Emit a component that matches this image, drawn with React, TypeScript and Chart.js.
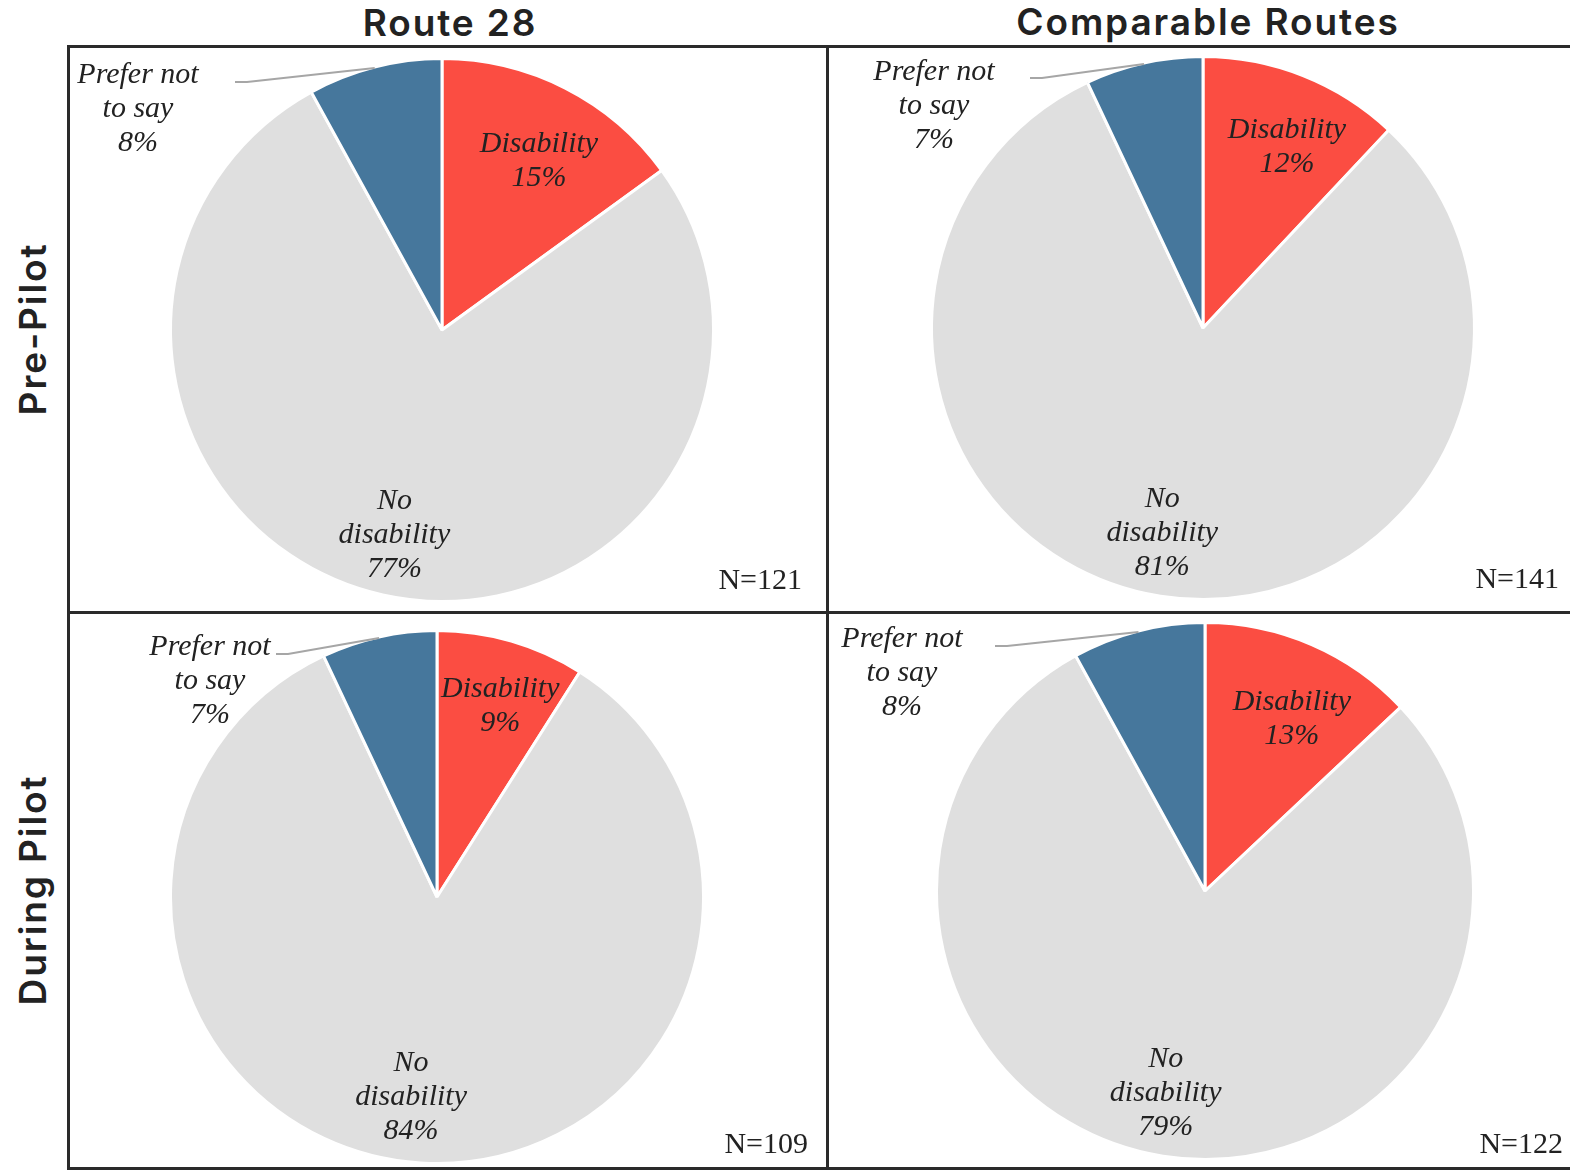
import React, { useEffect, useRef } from "react";
import { Chart, registerables } from "chart.js";

Chart.register(...registerables);

// ---------- data ----------
const categories = ["Disability", "No disability", "Prefer not to say"];
const categoryLabelLines = [["Disability"], ["No", "disability"], ["Prefer not", "to say"]];
const columnTitles = ["Route 28", "Comparable Routes"];
const rowTitles = ["Pre-Pilot", "During Pilot"];
const route28PrePilot = [15, 77, 8];
const comparablePrePilot = [12, 81, 7];
const route28DuringPilot = [9, 84, 7];
const comparableDuringPilot = [13, 79, 8];
const sampleSizes = [121, 141, 109, 122];

// ---------- styles ----------
const sliceColors = ["#FB4D42", "#DFDFDF", "#46779C"];
const TEXT = "#222222";
const FRAME = "#2a2a2a";
const LABEL_FONT = "italic 30px 'Liberation Serif', serif";
const N_FONT = "30px 'Liberation Serif', serif";
const HEAD_FONT = "Inter, 'Noto Sans', sans-serif";

// ---------- layout (page coordinates) ----------
type Panel = {
  data: number[];
  n: number;
  left: number;
  top: number;
  width: number;
  height: number;
  cx: number;
  cy: number;
  r: number;
  nudge: number[][];
  outLabel: number[];
  lineStart: number[];
  nPos: number[];
};

const panels: Panel[] = [
  {
    data: route28PrePilot, n: sampleSizes[0],
    left: 70, top: 48, width: 757, height: 564,
    cx: 442, cy: 330, r: 270,
    nudge: [[7, 8], [-2, 1]],
    outLabel: [-304, -221], lineStart: [-207, -248], nPos: [802, 589],
  },
  {
    data: comparablePrePilot, n: sampleSizes[1],
    left: 829, top: 48, width: 741, height: 564,
    cx: 1203, cy: 328, r: 270,
    nudge: [[11, 3], [-8, -1]],
    outLabel: [-269, -222], lineStart: [-173, -250], nPos: [1559, 588],
  },
  {
    data: route28DuringPilot, n: sampleSizes[2],
    left: 70, top: 614, width: 757, height: 553,
    cx: 437, cy: 897, r: 265,
    nudge: [[9, -4], [-13, -5]],
    outLabel: [-227, -216], lineStart: [-161, -243], nPos: [808, 1153],
  },
  {
    data: comparableDuringPilot, n: sampleSizes[3],
    left: 829, top: 614, width: 741, height: 553,
    cx: 1205, cy: 891, r: 267,
    nudge: [[9, 8], [-7, -2]],
    outLabel: [-303, -218], lineStart: [-210, -245], nPos: [1563, 1153],
  },
];

const BW = 3;
const LINE_H = 34;

function drawLines(ctx: CanvasRenderingContext2D, lines: string[], x: number, y: number) {
  const y0 = y - ((lines.length - 1) * LINE_H) / 2;
  lines.forEach((t, i) => ctx.fillText(t, x, y0 + i * LINE_H));
}

function PiePanel({ p }: { p: Panel }) {
  const ref = useRef<HTMLCanvasElement>(null);
  useEffect(() => {
    const canvas = ref.current;
    if (!canvas) return;
    const R = p.r + BW / 2;
    const S = 2 * R + BW;
    const padLeft = p.cx - p.left - S / 2;
    const padTop = p.cy - p.top - S / 2;
    const padding = {
      left: padLeft,
      top: padTop,
      right: p.width - padLeft - S,
      bottom: p.height - padTop - S,
    };
    const total = p.data.reduce((a, b) => a + b, 0);
    const labelPlugin = {
      id: "pieLabels",
      afterDatasetsDraw(chart: any) {
        const ctx = chart.ctx as CanvasRenderingContext2D;
        const meta = chart.getDatasetMeta(0);
        ctx.save();
        ctx.fillStyle = TEXT;
        ctx.textAlign = "center";
        ctx.textBaseline = "middle";
        ctx.font = LABEL_FONT;
        meta.data.forEach((arc: any, i: number) => {
          const { x, y, startAngle, endAngle, outerRadius } = arc.getProps(
            ["x", "y", "startAngle", "endAngle", "outerRadius"],
            true
          );
          const mid = (startAngle + endAngle) / 2;
          const pct = Math.round((p.data[i] / total) * 100) + "%";
          const lines = [...categoryLabelLines[i], pct];
          if (i < 2) {
            const f = i === 0 ? 0.73 : 0.77;
            const lx = x + Math.cos(mid) * outerRadius * f + p.nudge[i][0];
            const ly = y + Math.sin(mid) * outerRadius * f + p.nudge[i][1];
            drawLines(ctx, lines, lx, ly);
          } else {
            const lx = x + p.outLabel[0];
            const ly = y + p.outLabel[1];
            drawLines(ctx, lines, lx, ly);
            // leader line
            const sx = x + p.lineStart[0];
            const sy = y + p.lineStart[1];
            const ex = x + Math.cos(mid) * (outerRadius - 1);
            const ey = y + Math.sin(mid) * (outerRadius - 1);
            ctx.beginPath();
            ctx.strokeStyle = "#A6A6A6";
            ctx.lineWidth = 2;
            ctx.moveTo(sx, sy);
            ctx.lineTo(sx + 12, sy);
            ctx.lineTo(ex, ey);
            ctx.stroke();
          }
        });
        // sample size
        ctx.font = N_FONT;
        ctx.textAlign = "right";
        ctx.textBaseline = "alphabetic";
        ctx.fillText("N=" + p.n, p.nPos[0] - p.left, p.nPos[1] - p.top);
        ctx.restore();
      },
    };
    const chart = new Chart(canvas, {
      type: "pie",
      data: {
        labels: categories,
        datasets: [
          {
            data: p.data,
            backgroundColor: sliceColors,
            borderColor: "#FFFFFF",
            borderWidth: BW,
            hoverBorderWidth: BW,
            hoverOffset: 0,
          },
        ],
      },
      options: {
        responsive: false,
        animation: false,
        events: [],
        layout: { padding },
        plugins: {
          legend: { display: false },
          tooltip: { enabled: false },
          title: { display: false },
        },
      },
      plugins: [labelPlugin],
    });
    return () => chart.destroy();
  }, [p]);
  return (
    <canvas
      ref={ref}
      width={p.width}
      height={p.height}
      style={{ position: "absolute", left: p.left, top: p.top, width: p.width, height: p.height }}
    />
  );
}

function Line({ x, y, w, h }: { x: number; y: number; w: number; h: number }) {
  return <div style={{ position: "absolute", left: x, top: y, width: w, height: h, background: FRAME }} />;
}

export default function App() {
  const headStyle: React.CSSProperties = {
    position: "absolute",
    fontFamily: HEAD_FONT,
    fontWeight: 600,
    fontSize: 37,
    color: TEXT,
    whiteSpace: "nowrap",
    lineHeight: 1,
    letterSpacing: 1.9,
  };
  return (
    <div
      style={{
        position: "absolute",
        left: 0,
        top: 0,
        width: 1570,
        height: 1171,
        background: "#FFFFFF",
        overflow: "hidden",
      }}
    >
      {panels.map((p, i) => (
        <PiePanel key={i} p={p} />
      ))}
      {/* frame */}
      <Line x={67} y={45} w={1503} h={3} />
      <Line x={67} y={611} w={1503} h={3} />
      <Line x={67} y={1167} w={1503} h={3} />
      <Line x={67} y={45} w={3} h={1125} />
      <Line x={826} y={45} w={3} h={1125} />
      {/* column titles */}
      <div style={{ ...headStyle, left: 450, top: 22, transform: "translate(-50%, -50%)" }}>{columnTitles[0]}</div>
      <div style={{ ...headStyle, left: 1208, top: 21, transform: "translate(-50%, -50%)" }}>{columnTitles[1]}</div>
      {/* row titles */}
      <div style={{ ...headStyle, left: 32, top: 329, transform: "translate(-50%, -50%) rotate(-90deg)" }}>{rowTitles[0]}</div>
      <div style={{ ...headStyle, left: 32, top: 890, transform: "translate(-50%, -50%) rotate(-90deg)" }}>{rowTitles[1]}</div>
    </div>
  );
}
